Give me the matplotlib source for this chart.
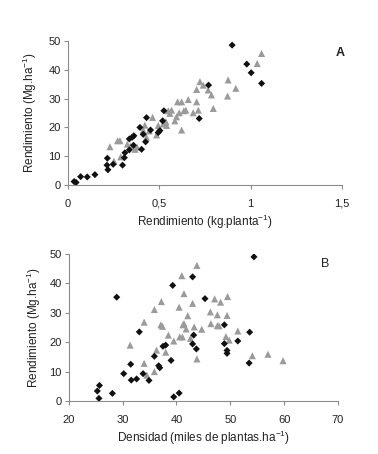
import matplotlib
matplotlib.use("Agg")
import matplotlib.pyplot as plt

plt.rcParams.update({
    "font.family": ["Liberation Sans Narrow", "Liberation Sans", "DejaVu Sans"],
    "font.size": 8,
    "mathtext.fontset": "custom",
    "mathtext.rm": "Liberation Sans",
    "mathtext.it": "Liberation Sans",
})

# ---- Panel A data: rendimiento por planta vs rendimiento por ha ----
a_black_x = [0.035, 0.046, 0.071, 0.107, 0.149, 0.217, 0.215, 0.220, 0.249, 0.30,
             0.31, 0.313, 0.337, 0.337, 0.353, 0.362, 0.36, 0.395, 0.404, 0.413,
             0.431, 0.426, 0.453, 0.495, 0.504, 0.519, 0.526, 0.719, 0.77, 0.899,
             0.979, 1.003, 1.06]
a_black_y = [1.2, 0.9, 2.9, 2.8, 3.6, 9.3, 6.9, 5.3, 7.2, 6.9,
             9.5, 11.2, 12.2, 16.0, 16.6, 17.1, 13.8, 20.0, 12.4, 17.6,
             23.4, 15.0, 19.1, 18.2, 18.9, 22.3, 25.8, 23.1, 34.7, 48.6,
             42.0, 39.0, 35.3]

a_gray_x = [0.231, 0.253, 0.273, 0.286, 0.29, 0.326, 0.344, 0.368, 0.38, 0.413,
            0.422, 0.431, 0.446, 0.464, 0.486, 0.495, 0.522, 0.537, 0.541, 0.55,
            0.559, 0.568, 0.586, 0.595, 0.601, 0.61, 0.623, 0.623, 0.635, 0.646,
            0.659, 0.686, 0.705, 0.705, 0.714, 0.723, 0.741, 0.768, 0.786, 0.796,
            0.877, 0.874, 0.919, 1.036, 1.06]
a_gray_y = [13.3, 8.3, 15.4, 15.4, 9.8, 14.2, 13.5, 12.4, 13.1, 19.1,
            20.8, 16.6, 18.8, 23.5, 17.4, 20.7, 21.2, 22.0, 20.7, 25.8,
            24.9, 26.0, 22.3, 23.7, 28.9, 25.1, 28.9, 19.1, 25.8, 26.0,
            29.7, 25.1, 28.9, 33.2, 26.0, 35.9, 34.7, 33.0, 31.3, 26.6,
            36.5, 30.9, 33.6, 42.2, 45.7]

# ---- Panel B data: densidad vs rendimiento ----
b_black_x = [25.3, 25.7, 25.6, 28.1, 28.9, 30.2, 31.5, 31.6, 32.6, 33.1,
             33.8, 34.9, 35.9, 36.7, 36.9, 37.5, 38.0, 39.0, 39.3, 39.5,
             40.5, 43.0, 43.0, 43.2, 43.7, 45.3, 48.9, 48.9, 49.4, 49.4,
             51.4, 53.6, 53.5, 54.4]
b_black_y = [3.4, 5.3, 0.9, 2.6, 35.3, 9.3, 12.5, 7.1, 7.5, 23.5,
             9.3, 7.0, 15.2, 12.0, 11.3, 18.6, 19.0, 13.8, 39.3, 1.4,
             2.7, 42.2, 19.4, 22.4, 17.7, 34.8, 19.5, 25.9, 17.2, 16.2,
             20.4, 23.4, 12.9, 49.0]

b_gray_x = [31.4, 34.0, 34.0, 34.5, 35.9, 35.9, 36.3, 37.1, 37.4, 37.2,
            38.0, 38.5, 39.5, 40.5, 40.6, 41.1, 41.0, 41.4, 41.2, 41.4,
            41.8, 42.1, 42.6, 43.0, 43.3, 43.8, 43.8, 44.7, 46.3, 46.4,
            47.1, 47.6, 47.6, 47.9, 48.2, 49.4, 49.5, 49.2, 49.8, 51.4,
            54.1, 57.0, 59.8]
b_gray_y = [19.0, 12.8, 26.8, 8.8, 10.0, 31.1, 17.3, 25.9, 25.4, 33.8,
            16.6, 22.4, 20.4, 31.9, 21.8, 21.8, 42.6, 36.5, 25.9, 26.3,
            24.5, 29.0, 21.3, 33.2, 25.2, 14.3, 46.1, 24.4, 30.3, 26.3,
            34.7, 29.3, 25.6, 25.6, 33.6, 29.1, 35.5, 21.9, 20.7, 23.8,
            15.4, 15.9, 13.7]

a_xticks = [0, 0.5, 1, 1.5]
a_xticklabels = ["0", "0,5", "1", "1,5"]
b_xticks = [20, 30, 40, 50, 60, 70]
y_ticks = [0, 10, 20, 30, 40, 50]

BLACK = "#111111"
GRAY = "#9b9b9b"
AXIS = "#8c8c8c"
TEXT = "#222222"

fig = plt.figure(figsize=(3.78, 4.54), dpi=100)
fig.patch.set_facecolor("white")

ax_a = fig.add_axes([0.179, 0.5925, 0.726, 0.317])
ax_b = fig.add_axes([0.182, 0.1167, 0.712, 0.324])


def style_axis(ax):
    for side in ("top", "right"):
        ax.spines[side].set_visible(False)
    for side in ("left", "bottom"):
        ax.spines[side].set_color(AXIS)
        ax.spines[side].set_linewidth(0.8)
    ax.tick_params(direction="out", length=3, width=0.8, color=AXIS,
                   labelsize=8, labelcolor=TEXT)
    ax.tick_params(axis="x", pad=7)
    ax.tick_params(axis="y", pad=2)
    ax.set_yticks(y_ticks)
    ax.set_ylim(0, 50)


# ----------------- Panel A -----------------
style_axis(ax_a)
ax_a.scatter(a_gray_x, a_gray_y, marker="^", s=26, color=GRAY,
             edgecolors="none", zorder=2)
ax_a.scatter(a_black_x, a_black_y, marker="D", s=13, color=BLACK,
             edgecolors="none", zorder=3)
ax_a.set_xlim(0, 1.5)
ax_a.set_xticks(a_xticks)
ax_a.set_xticklabels(a_xticklabels)
ax_a.set_xlabel("Rendimiento (kg.planta$^{-1}$)", fontsize=8.5, color=TEXT, labelpad=3)
ax_a.set_ylabel("Rendimiento (Mg.ha$^{-1}$)", fontsize=8.5, color=TEXT, labelpad=7)
ax_a.text(1.008, 0.917, "A", transform=ax_a.transAxes, ha="right", va="center",
          fontsize=9, weight="bold", color=TEXT)

# ----------------- Panel B -----------------
style_axis(ax_b)
ax_b.scatter(b_gray_x, b_gray_y, marker="^", s=26, color=GRAY,
             edgecolors="none", zorder=2)
ax_b.scatter(b_black_x, b_black_y, marker="D", s=13, color=BLACK,
             edgecolors="none", zorder=3)
ax_b.set_xlim(20, 70)
ax_b.set_xticks(b_xticks)
ax_b.set_xlabel("Densidad (miles de plantas.ha$^{-1}$)", fontsize=8.5, color=TEXT, labelpad=3)
ax_b.set_ylabel("Rendimiento (Mg.ha$^{-1}$)", fontsize=8.5, color=TEXT, labelpad=5)
ax_b.text(0.968, 0.93, "B", transform=ax_b.transAxes, ha="right", va="center",
          fontsize=9, color=TEXT)

fig.savefig("out.png", dpi=100, facecolor="white")
